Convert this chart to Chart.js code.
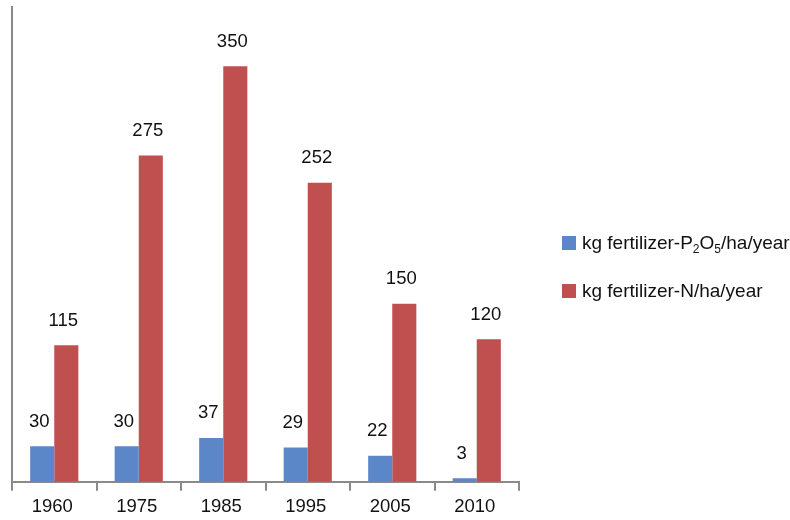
<!DOCTYPE html>
<html>
<head>
<meta charset="utf-8">
<script src="https://cdn.jsdelivr.net/npm/chart.js@4"></script>
<style>
  html, body { margin: 0; padding: 0; background: #fff; overflow: hidden; }
  #wrap { position: relative; width: 790px; height: 520px; overflow: hidden; }
  #chart { display: block; }
  #legend { position: absolute; left: 562px; top: 231px; font-family: "Liberation Sans", Arial, sans-serif; font-size: 19px; color: #111; }
  .item { display: flex; align-items: center; height: 24px; margin-bottom: 24px; white-space: nowrap; }
  .box { width: 14px; height: 14px; margin-right: 6px; }
  sub { font-size: 12px; vertical-align: -4px; line-height: 0; }
</style>
</head>
<body>
<div id="wrap">
  <canvas id="chart" width="790" height="523"></canvas>
  <div id="legend"></div>
</div>
<script>
// data
const years = ['1960', '1975', '1985', '1995', '2005', '2010'];
const phosphate = [30, 30, 37, 29, 22, 3];
const nitrogen = [115, 275, 350, 252, 150, 120];
const seriesNames = ['kg fertilizer-P₂O₅/ha/year', 'kg fertilizer-N/ha/year'];
const seriesHtml = ['kg fertilizer-P<sub>2</sub>O<sub>5</sub>/ha/year', 'kg fertilizer-N/ha/year'];
const colors = ['#5b87c8', '#c0504f'];

const FONT = "'Liberation Sans', Arial, sans-serif";
const AXIS = '#8a8a8a';

// numbers above each bar
const barLabels = {
  id: 'barLabels',
  afterDatasetsDraw(chart) {
    const ctx = chart.ctx;
    ctx.save();
    ctx.font = '18.5px ' + FONT;
    ctx.fillStyle = '#111';
    ctx.textAlign = 'center';
    ctx.textBaseline = 'alphabetic';
    chart.data.datasets.forEach((ds, di) => {
      chart.getDatasetMeta(di).data.forEach((bar, i) => {
        ctx.fillText(ds.data[i], bar.x - 3, bar.y - 19.5);
      });
    });
    ctx.restore();
  }
};

const chart = new Chart(document.getElementById('chart'), {
  type: 'bar',
  data: {
    labels: years,
    datasets: [{
      label: seriesNames[0],
      data: phosphate,
      backgroundColor: colors[0]
    }, {
      label: seriesNames[1],
      data: nitrogen,
      backgroundColor: colors[1]
    }]
  },
  options: {
    responsive: false,
    animation: false,
    datasets: { bar: { barPercentage: 1, categoryPercentage: 0.57 } },
    layout: { padding: { left: 12, top: 7, right: 271, bottom: 0 } },
    plugins: {
      legend: { display: false },
      tooltip: { enabled: false }
    },
    scales: {
      x: {
        grid: { drawOnChartArea: false, color: AXIS, lineWidth: 2, tickLength: 9 },
        border: { color: AXIS, width: 2 },
        ticks: { color: '#111', font: { family: FONT, size: 18.5 }, padding: 5, labelOffset: -2 }
      },
      y: {
        min: 0,
        max: 400,
        grid: { display: false, drawTicks: false },
        border: { color: AXIS, width: 2 },
        ticks: { display: false }
      }
    }
  },
  plugins: [barLabels]
});

document.getElementById('legend').innerHTML = seriesHtml.map((s, i) =>
  `<div class="item"><span class="box" style="background:${colors[i]}"></span><span>${s}</span></div>`
).join('');
</script>
</body>
</html>
